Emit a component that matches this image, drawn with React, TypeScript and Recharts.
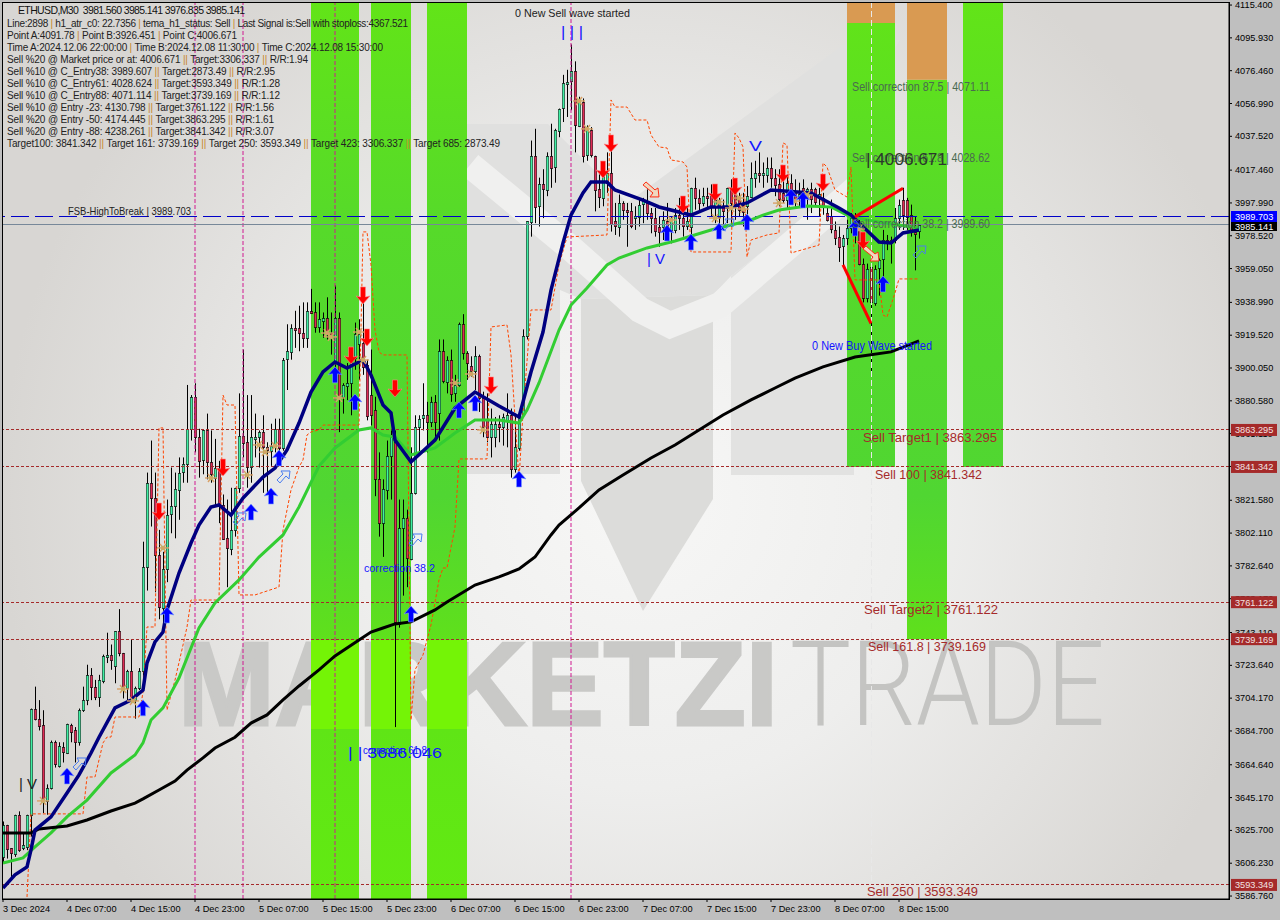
import React from 'react';
import { ComposedChart, Bar, Line, Scatter, XAxis, YAxis, ReferenceArea, ReferenceLine } from 'recharts';

// ETHUSD M30 candles
const opens = [3610,3629,3615,3612,3635,3615,3616,3635,3698,3692,3688,3643,3651,3678,3664,3675,3672,3688,3685,3678,3697,3703,3718,3711,3705,3714,3729,3730,3723,3744,3731,3710,3720,3703,3710,3720,3782,3832,3823,3789,3758,3781,3813,3818,3828,3838,3843,3864,3883,3859,3845,3863,3844,3835,3841,3819,3799,3793,3804,3829,3860,3856,3841,3858,3859,3862,3853,3851,3854,3864,3853,3905,3910,3924,3924,3921,3918,3934,3933,3924,3928,3930,3921,3904,3930,3883,3889,3891,3906,3914,3915,3902,3884,3875,3834,3808,3828,3848,3856,3748,3805,3811,3787,3826,3865,3870,3872,3868,3880,3873,3910,3892,3905,3885,3890,3926,3909,3901,3898,3907,3882,3869,3859,3859,3867,3865,3869,3872,3840,3853,3873,3919,3987,4026,3996,4009,4006,4026,4019,4041,4054,4069,4070,4076,4044,4058,4026,4041,4026,4006,4001,4010,4016,3987,3984,3998,3994,3993,3989,3990,3997,3998,3992,3989,3984,3984,3987,3982,3982,3991,3989,3984,3984,4007,4001,3998,4002,4002,3996,3990,3996,3995,4007,4004,4001,3997,3996,4002,4013,4016,4015,4015,4019,4013,4009,4004,4000,4010,4004,4001,4007,4001,4006,4006,4001,4001,3992,3990,3982,3978,3972,3977,3983,3989,3984,3962,3942,3960,3939,3959,3965,3976,3974,3976,3989,4000,4000,3991,3981,3981.56];
const closes = [3629,3615,3612,3635,3614,3617,3635,3698,3692,3688,3644,3651,3678,3665,3676,3672,3689,3684,3678,3697,3703,3718,3711,3705,3715,3729,3730,3727,3744,3731,3710,3720,3703,3710,3720,3782,3832,3823,3789,3758,3781,3813,3818,3828,3838,3843,3864,3883,3859,3845,3863,3844,3837,3841,3819,3799,3793,3804,3829,3860,3856,3841,3859,3859,3862,3853,3851,3854,3864,3853,3905,3910,3924,3923,3921,3918,3934,3933,3924,3929,3930,3921,3918,3930,3884,3890,3891,3906,3920,3920,3901,3872,3872,3834,3808,3828,3848,3859,3749,3805,3811,3787,3826,3865,3870,3872,3868,3880,3868,3910,3892,3905,3885,3890,3926,3909,3903,3898,3907,3882,3865,3859,3867,3867,3865,3871,3872,3840,3853,3873,3919,3987,4026,3996,4009,4006,4026,4019,4041,4054,4069,4070,4076,4044,4058,4026,4041,4026,4006,4001,4015,4016,3986,3984,3998,3994,3993,3984,3990,3997,3999,3992,3989,3981,3981,3988,3984,3989,3991,3989,3984,3987,4007,4001,3998,4002,4001,3996,4000,4000,3993,4007,3998,3997,3994,3993,4002,4013,4016,4015,4016,4019,4013,4009,4000,4000,4010,4004,4000,4003,4003,4006,4000,3998,4003,3996,3988,3982,3977,3972,3977,3983,3989,3984,3962,3942,3959,3939,3959,3964,3976,3974,3976,3989,3997,3991,3990,3981,3980,3985.14];
const highs = [3631,3629,3615,3635,3637,3624,3635,3698,3711,3703,3697,3653,3679,3679,3678,3678,3689,3689,3687,3698,3711,3724,3722,3715,3718,3730,3743,3736,3744,3757,3731,3721,3739,3711,3722,3797,3838,3857,3838,3804,3791,3822,3841,3838,3847,3847,3890,3884,3891,3864,3863,3873,3863,3858,3845,3825,3822,3829,3829,3885,3911,3884,3884,3873,3863,3872,3856,3867,3870,3870,3906,3926,3926,3934,3937,3939,3939,3947,3939,3939,3933,3942,3933,3949,3933,3891,3903,3912,3927,3929,3945,3905,3911,3883,3850,3834,3857,3863,3863,3822,3822,3816,3853,3872,3872,3891,3880,3883,3884,3917,3917,3907,3911,3896,3927,3932,3910,3907,3913,3908,3886,3885,3876,3871,3872,3873,3885,3876,3873,3875,3923,3987,4035,4042,4013,4018,4028,4045,4042,4054,4074,4077,4092,4082,4061,4060,4044,4043,4026,4015,4016,4028,4034,3998,4003,3999,3998,3998,3996,4000,4001,4006,3995,3995,3990,3993,3998,3990,3995,4001,3993,3996,4007,4013,4006,4007,4007,4009,4004,4001,4000,4007,4012,4010,4004,4004,4008,4022,4023,4028,4022,4025,4025,4018,4018,4012,4015,4015,4012,4010,4012,4007,4010,4007,4007,4004,3996,4000,3987,3984,3979,3988,3992,3992,3988,3965,3962,3962,3961,3965,3982,3979,3978,3995,4000,4007,4001,3997,3990,3985.14];
const lows = [3607,3609,3598,3610,3613,3614,3614,3622,3691,3685,3636,3635,3650,3663,3663,3666,3671,3678,3666,3676,3696,3700,3703,3703,3699,3713,3725,3721,3713,3729,3704,3703,3701,3692,3709,3715,3768,3806,3767,3751,3746,3773,3802,3799,3810,3832,3832,3857,3850,3835,3837,3834,3832,3818,3808,3798,3770,3789,3800,3826,3847,3829,3832,3847,3841,3826,3826,3842,3850,3842,3851,3887,3905,3912,3910,3912,3912,3933,3921,3921,3918,3917,3908,3898,3862,3873,3881,3872,3899,3893,3896,3869,3866,3824,3800,3788,3822,3822,3687,3746,3765,3770,3786,3825,3850,3863,3850,3865,3857,3857,3891,3885,3880,3880,3889,3905,3893,3895,3887,3874,3859,3856,3847,3853,3856,3854,3853,3835,3838,3851,3871,3917,3978,3986,3984,3989,4002,4007,4010,4037,4046,4049,4053,4028,4043,4022,4023,4025,3993,3995,3996,4004,3981,3979,3978,3988,3972,3983,3982,3984,3986,3988,3980,3978,3972,3976,3980,3974,3980,3982,3978,3982,3978,3994,3993,3996,3994,3990,3986,3984,3984,3986,3984,3988,3990,3984,3991,4001,4007,4010,4007,4010,4007,4002,3996,3998,3995,3998,3995,3996,3998,3988,3992,3996,3990,3991,3987,3980,3973,3963,3961,3973,3980,3974,3961,3939,3939,3898,3937,3943,3953,3970,3962,3974,3982,3982,3982,3978,3958,3976.84];

const dateTicks = [0,16,32,48,64,80,96,112,128,144,160,176,192,208,224];
const dateLabels = ['3 Dec 2024','4 Dec 07:00','4 Dec 15:00','4 Dec 23:00','5 Dec 07:00','5 Dec 15:00','5 Dec 23:00','6 Dec 07:00','6 Dec 15:00','6 Dec 23:00','7 Dec 07:00','7 Dec 15:00','7 Dec 23:00','8 Dec 07:00','8 Dec 15:00'];
const priceTicks = [4115.4,4095.93,4076.46,4056.99,4037.52,4017.46,3997.99,3978.52,3959.05,3938.99,3919.52,3900.05,3880.58,3861.11,3841.64,3821.58,3802.11,3782.64,3763.17,3743.11,3723.64,3704.17,3684.7,3664.64,3645.17,3625.7,3606.23,3586.76];

// moving averages, [bar, price]
const slowPoints = [[0,3624.2],[7,3624.2],[9,3626.6],[16,3628.3],[21,3631.9],[27,3637.2],[33,3641.9],[35,3644.4],[39,3649.7],[43,3655],[46,3661.5],[50,3668.7],[53,3674.6],[58,3681],[62,3689.4],[66,3694.2],[70,3703.1],[74,3711.4],[79,3720.9],[83,3729.2],[89,3738.7],[92,3743.4],[95,3745.8],[98,3748.2],[102,3749.4],[108,3756.5],[111,3761.2],[118,3771.3],[124,3776.1],[129,3780.8],[133,3787.9],[137,3801],[139,3806.9],[144,3817],[149,3827.7],[155,3836.6],[162,3846.7],[168,3854.4],[174,3863.3],[180,3872.2],[187,3881.1],[193,3888.2],[198,3894.1],[205,3900.7],[213,3906.6],[222,3909.6],[229,3916.1]];
const fastPoints = [[0,3591.5],[3,3599.3],[6,3604],[7,3614.1],[8,3625.9],[12,3633.7],[16,3647.9],[19,3658.6],[22,3671.6],[24,3681],[28,3698.4],[32,3703.1],[35,3709],[36,3725],[38,3737.5],[40,3743.4],[41,3756.5],[44,3778.4],[47,3796.2],[49,3806.9],[52,3817.6],[54,3818.8],[57,3812.8],[60,3822.9],[65,3835.4],[68,3840.7],[71,3851.4],[74,3867.4],[77,3885.8],[80,3897.7],[83,3903.6],[86,3900],[90,3904.8],[92,3895.9],[95,3878.1],[97,3873.4],[98,3857.3],[102,3844.3],[108,3857.3],[113,3876.3],[118,3885.8],[124,3877.5],[129,3871],[132,3897.7],[135,3921.4],[137,3946.3],[140,3974.2],[142,3990.8],[145,4003.9],[147,4010.4],[151,4010.4],[153,4005.7],[160,3999.7],[164,3995.6],[172,3990.8],[177,3995.6],[182,3995.6],[186,3998],[192,4005.7],[202,4003.9],[209,3995],[212,3990.8],[219,3974.8],[222,3974.2],[225,3980.2],[229,3981.9]];
const midPoints = [[0,3606.4],[5,3609.4],[8,3615.9],[12,3624.2],[16,3633.7],[21,3643.7],[27,3659.8],[33,3670.4],[35,3677.6],[37,3691.2],[40,3698.4],[44,3716.1],[49,3745.8],[53,3760.6],[59,3774.3],[64,3787.9],[70,3801],[74,3817.6],[79,3841.9],[83,3852.6],[89,3863.3],[92,3864.5],[95,3860.3],[98,3859.1],[102,3848.4],[108,3852.6],[113,3861.5],[118,3869.2],[124,3869.2],[129,3867.4],[131,3875.1],[134,3891.2],[139,3922.6],[142,3937.4],[146,3947.5],[151,3961.2],[154,3965.3],[161,3971.3],[168,3975.4],[177,3981.9],[182,3984.9],[187,3987.9],[190,3990.8],[194,3993.8],[201,3996.2],[207,3995.6],[212,3989.6],[219,3986.7],[229,3983.1]];
const trailPoints = [[6,3586.2],[7,3635.5],[20,3635.5],[21,3657.4],[23,3657.4],[25,3677.6],[26,3681.1],[27,3681.1],[28,3693],[34,3693],[35,3707.8],[36,3746.4],[38,3746.4],[39,3864.5],[40,3864.5],[41,3697.1],[43,3714.9],[45,3735.7],[46,3746.4],[47,3762.4],[54,3762.4],[55,3884],[56,3878.1],[58,3878.1],[59,3765.4],[63,3765.4],[69,3770.1],[70,3803.9],[72,3827.7],[74,3841.3],[75,3845.5],[76,3860.3],[77,3862.1],[79,3863.3],[80,3866.2],[89,3866.2],[90,3980.8],[91,3980.8],[92,3961.2],[93,3922.6],[94,3909.6],[95,3907.8],[101,3907.8],[102,3691.2],[103,3720.9],[105,3729.8],[107,3747.6],[109,3774.3],[110,3781.4],[111,3781.4],[113,3805.7],[114,3846.1],[121,3846.1],[122,3924.4],[126,3925.6],[127,3907.8],[129,3833.6],[130,3873.4],[132,3934.5],[137,3934.5],[139,3961.2],[141,3977.8],[151,3979],[152,4059.1],[153,4054.9],[156,4054.9],[158,4047.2],[161,4047.2],[162,4038.3],[164,4031.2],[166,4030.6],[167,4023.5],[170,4022.3],[171,4019.3],[172,3968.9],[182,3968.9],[183,4039.5],[184,4036.5],[185,4031.2],[186,3965.9],[187,3976],[191,3979],[194,3980.2],[195,4033.6],[196,4032.4],[197,3968.3],[204,3973],[205,4021.7],[206,4019.3],[208,4005.7],[211,4001.5],[212,4019.3],[213,3952.3],[219,3952.3],[220,3931.5],[221,3930.3],[223,3944.6],[224,3952.9],[229,3952.9]];
const waveDownPoints = [[210,3961.2],[217,3926.45]];
const waveUpPoints = [[213,3989.7],[225,4006.67]];

// signal markers
const buyArrows = [[16,3658],[35,3698.4],[41,3753.5],[62,3814.6],[67,3824.1],[69,3846.7],[83,3896],[88,3879.9],[102,3754.1],[114,3875.1],[118,3879.3],[129,3834.2],[166,3980.2],[172,3974.8],[179,3981.3],[186,3986.7],[197,4001.5],[200,3999.7],[213,3983.1],[220,3949.9]];
const sellArrows = [[39,3815.2],[55,3841.3],[90,3943.4],[91,3918.5],[87,3907.8],[98,3888.2],[122,3890],[152,4033.6],[150,4018.1],[170,3997.4],[178,4004.5],[183,4008],[195,4015.8],[205,4010.4],[215,3976]];
const stars = [[10,3643.2],[30,3709.6],[32.5,3702.5],[40,3793.3],[52,3834.8],[61,3836.6],[64,3854.4],[65.5,3850.2],[68,3853.8],[81,3920.8],[82,3918.5],[84,3882.3],[89,3921.4],[90,3904.8],[113,3891.2],[117,3896.5],[120,3863.3],[144,4058.5],[146,4041.9],[167,3987.9],[178,3989],[179,3998.6],[182,3995],[184,4000.9],[185,3994.4],[194,3997.9],[198,3999.1],[201,4002.7],[214,3982.5]];
const hollowBuy = [[19,3665.1],[70,3835.4],[59,3810.5],[103,3798],[181,3984.9],[229,3968.9]];
const hollowSell = [[162,4005.7],[217,3967.7]];

// horizontal levels
const fsbLevel = 3989.703;
const bidLevel = 3985.141;
const targetLevels = [3863.295, 3841.342, 3761.122, 3739.169, 3593.349];
const timeMarks = [48, 60, 83, 142];
const cursorBar = 217;

const infoLines: [string, number, number][] = [
  ['Line:2898 | h1_atr_c0: 22.7356 | tema_h1_status: Sell | Last Signal is:Sell with stoploss:4367.521', 7, 401],
  ['Point A:4091.78 | Point B:3926.451 | Point C:4006.671', 7, 230],
  ['Time A:2024.12.06 22:00:00 | Time B:2024.12.08 11:30:00 | Time C:2024.12.08 15:30:00', 7, 376],
  ['Sell %20 @ Market price or at: 4006.671 || Target:3306.337 || R/R:1.94', 7, 301],
  ['Sell %10 @ C_Entry38: 3989.607 || Target:2873.49 || R/R:2.95', 7, 268],
  ['Sell %10 @ C_Entry61: 4028.624 || Target:3593.349 || R/R:1.28', 7, 273],
  ['Sell %10 @ C_Entry88: 4071.114 || Target:3739.169 || R/R:1.12', 7, 273],
  ['Sell %10 @ Entry -23: 4130.798 || Target:3761.122 || R/R:1.56', 7, 267],
  ['Sell %20 @ Entry -50: 4174.445 || Target:3863.295 || R/R:1.61', 7, 267],
  ['Sell %20 @ Entry -88: 4238.261 || Target:3841.342 || R/R:3.07', 7, 267],
  ['Target100: 3841.342 || Target 161: 3739.169 || Target 250: 3593.349 || Target 423: 3306.337 || Target 685: 2873.49', 7, 493],
];

const chartLabels: { t: string; x: number; y: number; w: number; s: number; c: string }[] = [
  { t: '0 New Sell wave started', x: 515, y: 17, w: 115, s: 11, c: '#222' },
  { t: '|  |  |', x: 561, y: 37, w: 22, s: 15, c: '#1414ff' },
  { t: '| V', x: 647, y: 264, w: 18, s: 15, c: '#1414ff' },
  { t: 'V', x: 749, y: 151, w: 13, s: 15, c: '#1414ff' },
  { t: '| V', x: 19, y: 789, w: 18, s: 15, c: '#222' },
  { t: 'correction 38.2', x: 364, y: 572, w: 71, s: 11, c: '#1414ff' },
  { t: '| | 3686.046', x: 348, y: 758, w: 94, s: 15, c: '#1414ff' },
  { t: 'correction 61.8', x: 363, y: 754, w: 64, s: 10, c: '#1414ff' },
  { t: '0 New Buy Wave started', x: 812, y: 350, w: 120, s: 12, c: '#1414ff' },
  { t: 'FSB-HighToBreak | 3989.703', x: 68, y: 215, w: 123, s: 10.5, c: '#222' },
  { t: 'Sell correction 87.5 | 4071.11', x: 852, y: 91, w: 138, s: 12, c: '#4a6a50' },
  { t: 'Sell correction 61.8 | 4028.62', x: 852, y: 162, w: 138, s: 12, c: '#4a6a50' },
  { t: 'Sell correction 38.2 | 3989.60', x: 852, y: 228, w: 138, s: 12, c: '#4a6a50' },
  { t: '| 4006.671', x: 866, y: 165, w: 81, s: 16, c: '#2b3a2b' },
  { t: 'Sell Target1 | 3863.295', x: 863, y: 442, w: 134, s: 13, c: '#a52a2a' },
  { t: 'Sell 100 | 3841.342', x: 875, y: 479, w: 107, s: 13, c: '#a52a2a' },
  { t: 'Sell Target2 | 3761.122', x: 864, y: 614, w: 134, s: 13, c: '#a52a2a' },
  { t: 'Sell 161.8 | 3739.169', x: 868, y: 651, w: 118, s: 13, c: '#a52a2a' },
  { t: 'Sell  250 | 3593.349', x: 867, y: 896, w: 111, s: 13, c: '#a52a2a' },
];

const toMap = (pts: number[][]) => new Map(pts.map(p => [p[0], p[1]]));
const slowMap = toMap(slowPoints);
const fastMap = toMap(fastPoints);
const midMap = toMap(midPoints);
const trailMap = toMap(trailPoints);
const waveDownMap = toMap(waveDownPoints);
const waveUpMap = toMap(waveUpPoints);

const rows = opens.map((o, i) => ({
  i,
  open: o,
  close: closes[i],
  high: highs[i],
  low: lows[i],
  range: [lows[i], highs[i]],
  slow: slowMap.get(i),
  fast: fastMap.get(i),
  mid: midMap.get(i),
  trail: trailMap.get(i),
  waveDown: waveDownMap.get(i),
  waveUp: waveUpMap.get(i),
}));

const toMarks = (pts: number[][]) => pts.map(p => ({ i: p[0], price: p[1] }));

const W = 1280;
const H = 920;
const PRICE_TOP = 4116.62;
const PRICE_BOTTOM = 3585.0;
const PLOT_TOP = 3;
const PLOT_BOTTOM = 899;
const yOf = (p: number) => PLOT_TOP + ((PRICE_TOP - p) / (PRICE_TOP - PRICE_BOTTOM)) * (PLOT_BOTTOM - PLOT_TOP);

const SANS = '"Liberation Sans", Arial, sans-serif';

const Candle = (props: any) => {
  const { x, y, width, height, payload } = props;
  const { open, close, high, low } = payload;
  const cx = Math.round(x + width / 2);
  const h = Math.abs(height);
  const k = h / (high - low || 1);
  const top = Math.round(y + (high - Math.max(open, close)) * k);
  const bodyH = Math.max(Math.round(Math.abs(open - close) * k), 1);
  const up = close >= open;
  return (
    <g>
      <rect x={cx} y={y} width={1} height={h} fill="#000" />
      <rect x={cx - 0.8} y={top} width={2.6} height={bodyH + 1} fill="#000" />
      {bodyH > 1 && <rect x={cx - 0.4} y={top + 0.8} width={1.8} height={bodyH - 0.6} fill={up ? '#3ff0a4' : '#e02a55'} />}
    </g>
  );
};

const BuyArrow = ({ cx, cy }: any) => (
  <path
    d={`M${cx} ${cy - 8} L${cx + 7} ${cy} L${cx + 2.5} ${cy - 1} L${cx + 2.5} ${cy + 8} L${cx - 2.5} ${cy + 8} L${cx - 2.5} ${cy - 1} L${cx - 7} ${cy} Z`}
    fill="#0000ff"
    stroke="#7aa0ff"
    strokeWidth={0.6}
  />
);

const SellArrow = ({ cx, cy }: any) => (
  <path
    d={`M${cx} ${cy + 9} L${cx + 7} ${cy + 1} L${cx + 2.5} ${cy + 2} L${cx + 2.5} ${cy - 8} L${cx - 2.5} ${cy - 8} L${cx - 2.5} ${cy + 2} L${cx - 7} ${cy + 1} Z`}
    fill="#ff0000"
    stroke="#ff8a8a"
    strokeWidth={0.6}
  />
);

const Star = ({ cx, cy }: any) => (
  <g stroke="#d9a066" strokeWidth={1.4}>
    <line x1={cx - 6} x2={cx + 6} y1={cy} y2={cy} />
    <line x1={cx - 3} x2={cx + 3} y1={cy - 4} y2={cy + 4} />
    <line x1={cx + 3} x2={cx - 3} y1={cy - 4} y2={cy + 4} />
    <circle cx={cx} cy={cy} r={2} fill="#d9a066" stroke="#9ad060" strokeWidth={0.4} />
  </g>
);

const HollowBuy = ({ cx, cy }: any) => (
  <path
    d={`M${cx + 7} ${cy - 6} L${cx + 6} ${cy + 2} L${cx + 3} ${cy - 1} L${cx - 3} ${cy + 6} L${cx - 6} ${cy + 3} L${cx + 0} ${cy - 3} L${cx - 2} ${cy - 6} Z`}
    fill="none"
    stroke="#4a7cf0"
    strokeWidth={1}
  />
);

const HollowSell = ({ cx, cy }: any) => (
  <path
    d={`M${cx + 8} ${cy + 7} L${cx - 1} ${cy + 7} L${cx + 2} ${cy + 3} L${cx - 8} ${cy - 5} L${cx - 5} ${cy - 8} L${cx + 4} ${cy} L${cx + 7} ${cy - 2} Z`}
    fill="#f0d8c0"
    stroke="#ff2a10"
    strokeWidth={1}
  />
);

const DateTick = ({ x, y, payload }: any) => (
  <text x={x} y={y + 8} fontSize={9.2} fontFamily={SANS} fill="#000">
    {dateLabels[dateTicks.indexOf(payload.value)]}
  </text>
);

const PriceTick = ({ y, payload }: any) => (
  <text x={1235} y={y + 3} fontSize={9.2} fontFamily={SANS} fill="#000">
    {payload.value.toFixed(3)}
  </text>
);

const Backdrop = () => (
  <svg width={W} height={H} style={{ position: 'absolute', left: 0, top: 0 }}>
    <defs>
      <radialGradient id="paper" gradientUnits="userSpaceOnUse" cx={640} cy={500} r={640}>
        <stop offset="0" stopColor="#f7f7f6" />
        <stop offset="0.45" stopColor="#eeeeed" />
        <stop offset="1" stopColor="#d8d6d3" />
      </radialGradient>
    </defs>
    <rect x={0} y={0} width={W} height={H} fill="#bfbfbf" />
    <rect x={2.5} y={2.5} width={1227} height={897} fill="url(#paper)" stroke="#000" />
    {/* big logo behind the candles */}
    <polygon points="435,124 548,124 627,203 850,40 900,40 854,120 854,181 731,276 713,295 581,299 560,290 560,474 435,474" fill="#e0e0df" />
    <polygon points="731,276 854,181 854,475 731,475" fill="#e2e2e1" />
    <polygon points="581,299 713,295 713,499 643,611 581,481" fill="#dcdcda" />
    <polyline points="470,165 573,250 640,310 670,325 720,305 860,185" fill="none" stroke="#f0f0ef" strokeWidth={26} />
    <text x={178} y={725} fontSize={118} fontWeight={700} fontFamily={SANS} fill="#c9c9c7" stroke="#c9c9c7" strokeWidth={3} textLength={600} lengthAdjust="spacingAndGlyphs">MARKETZI</text>
    <text x={790} y={725} fontSize={118} fontWeight={300} fontFamily="Roboto, Lato, sans-serif" fill="#c4c4c2" textLength={315} lengthAdjust="spacingAndGlyphs">TRADE</text>
  </svg>
);

const Overlay = () => (
  <svg width={W} height={H} style={{ position: 'absolute', left: 0, top: 0, pointerEvents: 'none' }}>
    <text x={18} y={14} fontSize={10.5} fontFamily={SANS} fill="#111" textLength={227}>
      {'ETHUSD,M30\u00a0\u00a03981.560 3985.141 3976.835 3985.141'}
    </text>
    {infoLines.map(([line, x, w], n) => (
      <text key={n} x={x} y={27 + n * 12} fontSize={10} fontFamily={SANS} fill="#222" textLength={w}>
        {line.split(/(\|+)/).map((part, k) => (
          <tspan key={k} fill={part.startsWith('|') ? '#c8862c' : '#222'}>{part}</tspan>
        ))}
      </text>
    ))}
    {chartLabels.map(l => (
      <text key={l.t + l.y} x={l.x} y={l.y} fontSize={l.s} fontFamily={SANS} fill={l.c} textLength={l.w} lengthAdjust="spacingAndGlyphs">
        {l.t}
      </text>
    ))}
    {targetLevels.map(p => (
      <g key={p}>
        <rect x={1231} y={yOf(p) - 6} width={46} height={12} fill="#a52a2a" />
        <text x={1235} y={yOf(p) + 3.5} fontSize={9.2} fontFamily={SANS} fill="#f2e2e2">{p.toFixed(3)}</text>
      </g>
    ))}
    <rect x={1231} y={211} width={46} height={11} fill="#0000ff" />
    <text x={1235} y={220} fontSize={9.2} fontFamily={SANS} fill="#fff">{fsbLevel.toFixed(3)}</text>
    <rect x={1231} y={222} width={46} height={9} fill="#000" />
    <text x={1235} y={229.5} fontSize={9.2} fontFamily={SANS} fill="#fff">{bidLevel.toFixed(3)}</text>
  </svg>
);

export default function App() {
  return (
    <div style={{ position: 'absolute', left: 0, top: 0, width: W, height: H, overflow: 'hidden' }}>
      <Backdrop />
      <div style={{ position: 'absolute', left: 0, top: 0 }}>
        <ComposedChart width={W} height={H} data={rows} margin={{ top: 3, right: 0, bottom: 0, left: 3 }} barGap={0}>
          <defs>
            <linearGradient id="zoneFill" gradientUnits="userSpaceOnUse" x1={0} y1={3} x2={0} y2={899}>
              <stop offset="0" stopColor="#62e418" />
              <stop offset="0.25" stopColor="#56da2a" />
              <stop offset="0.55" stopColor="#50d632" />
              <stop offset="0.711" stopColor="#5fe01c" />
              <stop offset="0.711" stopColor="#74f406" />
              <stop offset="0.81" stopColor="#74f406" />
              <stop offset="0.81" stopColor="#5fe516" />
              <stop offset="1" stopColor="#62ea12" />
            </linearGradient>
          </defs>
          <XAxis
            dataKey="i"
            type="number"
            domain={[0, 306.5]}
            allowDataOverflow
            ticks={dateTicks}
            interval={0}
            height={21}
            tick={<DateTick />}
            tickSize={3}
            axisLine={{ stroke: '#000' }}
            tickLine={{ stroke: '#000' }}
          />
          <YAxis
            orientation="right"
            type="number"
            domain={[PRICE_BOTTOM, PRICE_TOP]}
            allowDataOverflow
            ticks={priceTicks}
            interval={0}
            width={51}
            tick={<PriceTick />}
            tickSize={3}
            axisLine={{ stroke: '#000' }}
            tickLine={{ stroke: '#000' }}
          />

          <ReferenceArea x1={77} x2={89} y1={PRICE_BOTTOM} y2={PRICE_TOP} fill="url(#zoneFill)" fillOpacity={1} />
          <ReferenceArea x1={92} x2={102} y1={PRICE_BOTTOM} y2={PRICE_TOP} fill="url(#zoneFill)" fillOpacity={1} />
          <ReferenceArea x1={106} x2={116} y1={PRICE_BOTTOM} y2={PRICE_TOP} fill="url(#zoneFill)" fillOpacity={1} />
          <ReferenceArea x1={211} x2={223} y1={3841.342} y2={4104.7} fill="url(#zoneFill)" fillOpacity={1} />
          <ReferenceArea x1={211} x2={223} y1={4104.7} y2={PRICE_TOP} fill="#d99a52" fillOpacity={1} />
          <ReferenceArea x1={226} x2={236} y1={3739.169} y2={4071.11} fill="url(#zoneFill)" fillOpacity={1} />
          <ReferenceArea x1={226} x2={236} y1={4071.11} y2={PRICE_TOP} fill="#d99a52" fillOpacity={1} />
          <ReferenceArea x1={240} x2={250} y1={3841.342} y2={PRICE_TOP} fill="url(#zoneFill)" fillOpacity={1} />

          {timeMarks.map(b => (
            <ReferenceLine key={b} x={b} stroke="#d01890" strokeDasharray="4 2" />
          ))}
          <ReferenceLine x={cursorBar} stroke="#e8e8e8" strokeDasharray="6 3" shapeRendering="crispEdges" />
          <ReferenceLine y={fsbLevel} stroke="#0000c8" strokeDasharray="18 6" shapeRendering="crispEdges" />
          <ReferenceLine y={bidLevel} stroke="#778899" shapeRendering="crispEdges" />
          {targetLevels.map(p => (
            <ReferenceLine key={p} y={p} stroke="#a52a2a" strokeDasharray="3 2" shapeRendering="crispEdges" />
          ))}

          <Line dataKey="trail" stroke="#ff4500" strokeWidth={1} strokeDasharray="3 2" dot={false} connectNulls isAnimationActive={false} />
          <Bar dataKey="range" barSize={3} shape={<Candle />} isAnimationActive={false} />
          <Line dataKey="mid" stroke="#32cd32" strokeWidth={3} dot={false} connectNulls isAnimationActive={false} />
          <Line dataKey="slow" stroke="#000" strokeWidth={3} dot={false} connectNulls isAnimationActive={false} />
          <Line dataKey="fast" stroke="#000080" strokeWidth={3.5} dot={false} connectNulls isAnimationActive={false} />
          <Line dataKey="waveDown" stroke="#ff0000" strokeWidth={3} dot={false} connectNulls isAnimationActive={false} />
          <Line dataKey="waveUp" stroke="#ff0000" strokeWidth={3} dot={false} connectNulls isAnimationActive={false} />

          <Scatter data={toMarks(stars)} dataKey="price" shape={<Star />} isAnimationActive={false} />
          <Scatter data={toMarks(buyArrows)} dataKey="price" shape={<BuyArrow />} isAnimationActive={false} />
          <Scatter data={toMarks(sellArrows)} dataKey="price" shape={<SellArrow />} isAnimationActive={false} />
          <Scatter data={toMarks(hollowBuy)} dataKey="price" shape={<HollowBuy />} isAnimationActive={false} />
          <Scatter data={toMarks(hollowSell)} dataKey="price" shape={<HollowSell />} isAnimationActive={false} />
        </ComposedChart>
      </div>
      <Overlay />
    </div>
  );
}
